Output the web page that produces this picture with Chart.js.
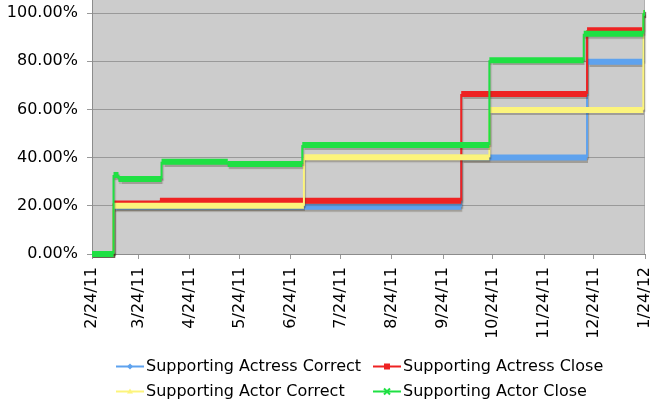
<!DOCTYPE html>
<html>
<head>
<meta charset="utf-8">
<script src="https://cdn.jsdelivr.net/npm/chart.js@4.4.0/dist/chart.umd.min.js"></script>
<style>
  html, body { margin: 0; padding: 0; background: #fff; }
  #wrap { width: 661px; height: 400px; }
</style>
</head>
<body>
<div id="wrap"><canvas id="oscarChart"></canvas></div>
<script>
// Days counted from 2/24/11; each series is a step: value holds from its day until the next day
const endDay = 334;

const actressCorrectDays = [0, 13, 223, 299, 333];
const actressCorrectVals = [0, 19.6, 40, 79.8, 100];

const actressCloseDays = [0, 13, 41, 223, 299, 333];
const actressCloseVals = [0, 21, 22.1, 66.4, 92.8, 100];

const actorCorrectDays = [0, 13, 128, 240, 333];
const actorCorrectVals = [0, 20, 40.1, 59.8, 100];

const actorCloseDays = [0, 13, 16, 42, 82, 127, 240, 297, 333];
const actorCloseVals = [0, 32.8, 31.1, 38.3, 37.3, 45.2, 80.4, 91.4, 100];

// Axis ticks
const xTickDays = [0, 28, 59, 89, 120, 150, 181, 212, 242, 273, 303, 334];
const xTickLabels = ['2/24/11', '3/24/11', '4/24/11', '5/24/11', '6/24/11', '7/24/11',
    '8/24/11', '9/24/11', '10/24/11', '11/24/11', '12/24/11', '1/24/12'];
const yTickValues = [0, 20, 40, 60, 80, 100];

const FONT = "'DejaVu Sans', Verdana, sans-serif";

// Turn step days/values into corner points
function stepPoints(days, vals) {
    const pts = [];
    for (let i = 0; i < days.length; i++) {
        const next = i < days.length - 1 ? days[i + 1] : endDay;
        pts.push({ x: days[i], y: vals[i] });
        pts.push({ x: next, y: vals[i] });
    }
    return pts;
}

// flat parts are drawn thick (daily markers in the original), risers thin
const thickFlat = {
    borderWidth: function(ctx) {
        return ctx.p0.parsed.y === ctx.p1.parsed.y ? 6 : 2;
    }
};

function makeSeries(label, days, vals, color, marker, order) {
    return {
        label: label,
        data: stepPoints(days, vals),
        borderColor: color,
        backgroundColor: color,
        borderWidth: 2,
        pointRadius: 0,
        marker: marker,
        fill: false,
        clip: 4,
        order: order,
        segment: thickFlat
    };
}

// grey plot background + soft line shadows
const plotBackground = {
    id: 'plotBackground',
    beforeDraw: function(chart) {
        const a = chart.chartArea;
        const ctx = chart.ctx;
        ctx.save();
        ctx.fillStyle = '#cccccc';
        ctx.fillRect(a.left, a.top, a.right - a.left, a.bottom - a.top);
        ctx.strokeStyle = '#b0b0b0';
        ctx.lineWidth = 1;
        ctx.beginPath();
        ctx.moveTo(a.right - 0.5, a.top);
        ctx.lineTo(a.right - 0.5, a.bottom);
        ctx.stroke();
        ctx.restore();
    },
    beforeDatasetsDraw: function(chart) {
        const ctx = chart.ctx;
        ctx.save();
        ctx.shadowColor = 'rgba(60, 50, 30, 0.3)';
        ctx.shadowOffsetX = 1;
        ctx.shadowOffsetY = 2;
        ctx.shadowBlur = 1;
    },
    afterDatasetsDraw: function(chart) {
        chart.ctx.restore();
    }
};

// two-column legend like the Excel one
const gridLegend = {
    id: 'gridLegend',
    afterDraw: function(chart) {
        const ctx = chart.ctx;
        const cols = [116, 373];
        const rows = [366.5, 391.5];
        ctx.save();
        ctx.font = '16px ' + FONT;
        ctx.textBaseline = 'middle';
        ctx.textAlign = 'left';
        chart.data.datasets.forEach(function(ds, i) {
            const x = cols[i % 2];
            const y = rows[Math.floor(i / 2)];
            ctx.strokeStyle = ds.borderColor;
            ctx.fillStyle = ds.borderColor;
            ctx.lineWidth = 2;
            ctx.beginPath();
            ctx.moveTo(x, y);
            ctx.lineTo(x + 28, y);
            ctx.stroke();
            const cx = x + 14;
            ctx.beginPath();
            if (ds.marker === 'diamond') {
                ctx.moveTo(cx, y - 3); ctx.lineTo(cx + 3, y); ctx.lineTo(cx, y + 3); ctx.lineTo(cx - 3, y);
                ctx.closePath(); ctx.fill();
            } else if (ds.marker === 'square') {
                ctx.fillRect(cx - 3, y - 3, 6, 6);
            } else if (ds.marker === 'triangle') {
                ctx.moveTo(cx, y - 3); ctx.lineTo(cx + 3, y + 2); ctx.lineTo(cx - 3, y + 2);
                ctx.closePath(); ctx.fill();
            } else {
                ctx.moveTo(cx - 3, y - 3); ctx.lineTo(cx + 3, y + 3);
                ctx.moveTo(cx + 3, y - 3); ctx.lineTo(cx - 3, y + 3);
                ctx.stroke();
            }
            ctx.fillStyle = '#000';
            ctx.fillText(ds.label, x + 30, y);
        });
        ctx.restore();
    }
};

new Chart(document.getElementById('oscarChart'), {
    type: 'line',
    data: {
        datasets: [
            makeSeries('Supporting Actress Correct', actressCorrectDays, actressCorrectVals, '#5ea2ee', 'diamond', 4),
            makeSeries('Supporting Actress Close', actressCloseDays, actressCloseVals, '#ee2222', 'square', 3),
            makeSeries('Supporting Actor Correct', actorCorrectDays, actorCorrectVals, '#fcf47c', 'triangle', 2),
            makeSeries('Supporting Actor Close', actorCloseDays, actorCloseVals, '#1fe043', 'cross', 1)
        ]
    },
    plugins: [plotBackground, gridLegend],
    options: {
        responsive: true,
        maintainAspectRatio: false,
        animation: false,
        layout: {
            padding: { top: 0, right: 16, bottom: 50, left: 0 }
        },
        plugins: {
            tooltip: { enabled: false },
            legend: { display: false }
        },
        scales: {
            x: {
                type: 'linear',
                min: 0,
                max: endDay,
                afterBuildTicks: function(scale) {
                    scale.ticks = xTickDays.map(function(d) { return { value: d }; });
                },
                afterFit: function(scale) {
                    scale.height = 96;
                    scale.paddingLeft = 0;
                    scale.paddingRight = 0;
                },
                ticks: {
                    minRotation: 90,
                    maxRotation: 90,
                    padding: 8,
                    color: '#000',
                    font: { family: FONT, size: 16 },
                    callback: function(value, index) { return xTickLabels[index]; }
                },
                grid: {
                    drawOnChartArea: false,
                    drawTicks: true,
                    tickLength: 5,
                    color: '#999999'
                },
                border: { color: '#8c8c8c' }
            },
            y: {
                min: 0,
                max: 105.4,
                afterBuildTicks: function(scale) {
                    scale.ticks = yTickValues.map(function(v) { return { value: v }; });
                },
                afterFit: function(scale) {
                    scale.width = 92;
                    scale.paddingTop = 0;
                    scale.paddingBottom = 0;
                },
                ticks: {
                    padding: 9,
                    color: '#000',
                    font: { family: FONT, size: 16 },
                    callback: function(value) { return value.toFixed(2) + '%'; }
                },
                grid: {
                    color: '#999999',
                    tickLength: 5
                },
                border: { color: '#8c8c8c' }
            }
        }
    }
});
</script>
</body>
</html>
